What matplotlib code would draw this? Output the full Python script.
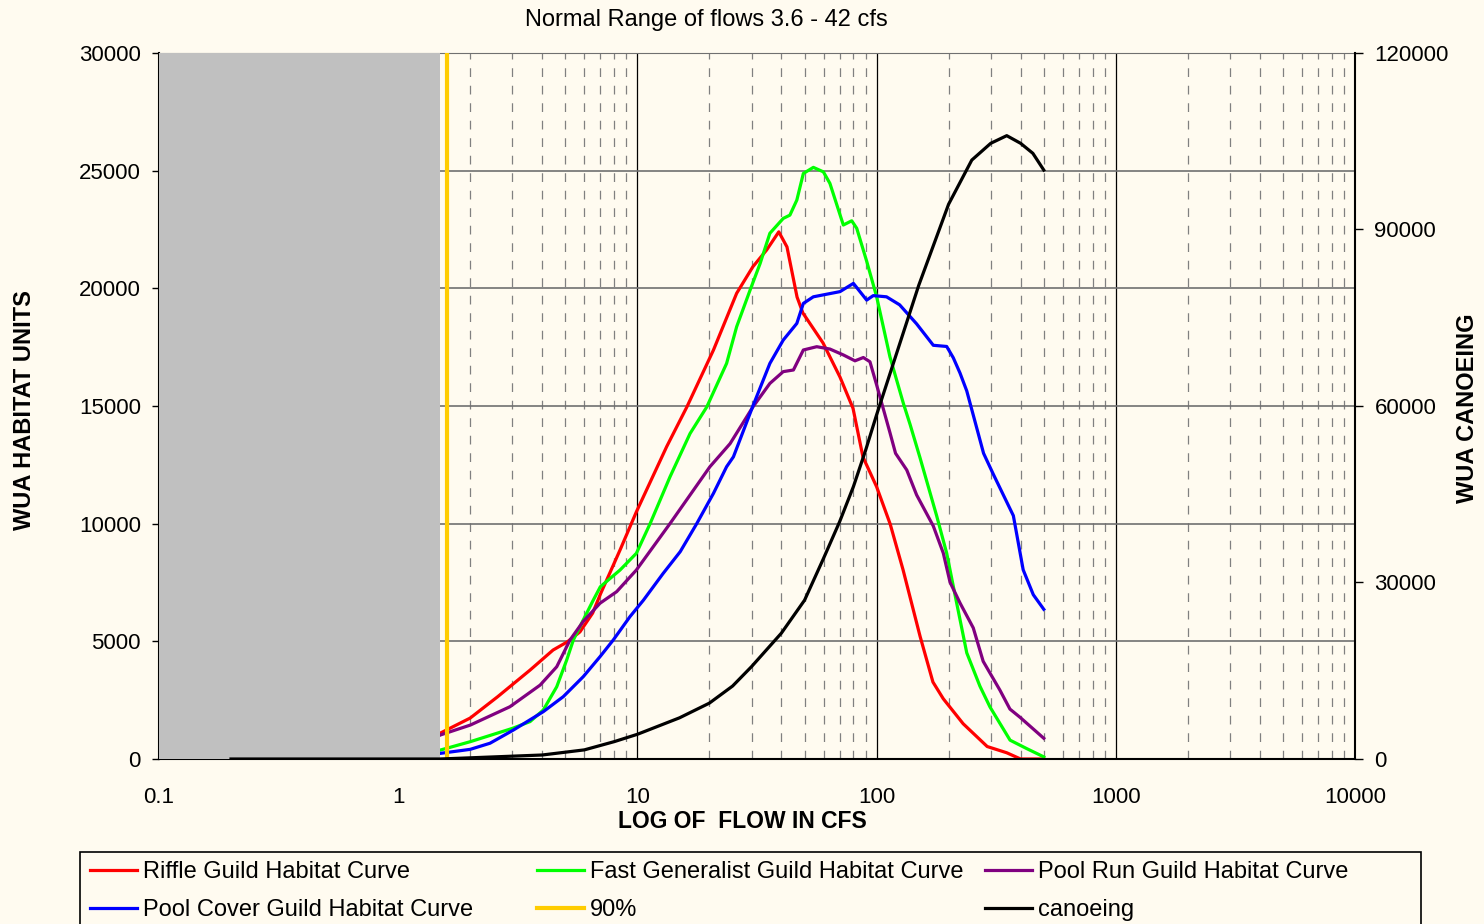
import matplotlib
matplotlib.use("Agg")
import matplotlib.pyplot as plt
from matplotlib.patches import Rectangle
from matplotlib.ticker import FixedLocator, NullFormatter

plt.rcParams['font.family'] = ['Liberation Sans', 'DejaVu Sans']

BG = '#FFFBF0'

# --- data ---
riffle_flow = [0.2, 0.5, 1.0, 1.5, 2.0, 2.6, 3.56, 4.44, 5.08, 5.75, 6.5, 7.0, 8.46, 9.9,
               13.25, 16.1, 20.8, 26.0, 30.4, 34.7, 39.0, 42.2, 46.5, 49.2, 59.7, 70.3,
               79.7, 87.7, 100, 114, 129, 152, 172, 190, 230, 290, 350, 400, 500]
riffle_wua = [0, 20, 60, 1100, 1740, 2640, 3780, 4630, 4970, 5400, 6200, 7000, 8880, 10500,
              13270, 14960, 17380, 19790, 20920, 21630, 22400, 21760, 19630, 18950, 17680, 16230,
              14900, 12830, 11570, 9980, 8040, 5210, 3270, 2560, 1500, 530, 265, 0, 0]

fast_flow = [0.2, 0.5, 1.0, 1.5, 2.0, 3.0, 3.56, 4.04, 4.6, 5.06, 5.4, 5.9, 6.5, 7.0, 8.46, 9.9,
             11.3, 13.7, 16.6, 19.5, 23.6, 26.0, 29.6, 32.6, 35.8, 40.7, 43.4, 46.4, 49.4, 54.4,
             59.9, 63.8, 72.6, 78.7, 82.6, 90.9, 100, 113.7, 129.4, 138, 151.8, 178.2, 196.3,
             216.1, 238.2, 270.5, 297.9, 361.4, 424.6, 500]
fast_wua = [0, 10, 30, 380, 735, 1300, 1590, 2080, 3070, 4200, 5060, 5850, 6700, 7320, 8030, 8740,
            10000, 12000, 13830, 14960, 16810, 18370, 19930, 21060, 22340, 22970, 23110, 23750, 24880, 25140,
            24950, 24460, 22690, 22870, 22550, 21150, 19650, 17090, 15110, 14220, 12810, 10340, 8750,
            6630, 4510, 3090, 2210, 800, 440, 90]

poolrun_flow = [0.2, 0.5, 1.0, 1.5, 2.0, 2.93, 3.92, 4.6, 5.23, 5.94, 6.98, 8.19, 9.9, 13.7,
                20.1, 24.4, 30.4, 35.8, 40.7, 44.9, 49.4, 56.2, 63.8, 72.6, 81.2, 88, 93.8,
                100, 113.7, 120, 133.7, 147, 172.6, 190, 202.8, 223.2, 253.6, 279, 328, 361, 398, 500]
poolrun_wua = [0, 10, 30, 1020, 1440, 2220, 3140, 3920, 5060, 5850, 6620, 7110, 8030, 10010,
               12420, 13400, 14960, 15960, 16460, 16530, 17380, 17520, 17420, 17170, 16920, 17060, 16880,
               15900, 13870, 12990, 12280, 11220, 9900, 8750, 7510, 6630, 5570, 4150, 2920, 2120, 1770, 880]

poolcover_flow = [0.2, 0.5, 1.0, 1.5, 2.0, 2.42, 3.03, 4.04, 4.9, 5.94, 6.98, 7.93, 9.31, 10.6,
                  12.8, 15.1, 17.7, 20.8, 23.6, 25.2, 30.4, 35.8, 40.7, 46.4, 49.4, 54.4, 70.3,
                  80, 90.9, 96.8, 110, 124.8, 147, 172.6, 196.3, 209.2, 223.2, 238.2, 280, 307.6,
                  373, 410, 452, 500]
poolcover_wua = [0, 5, 15, 240, 410, 670, 1230, 2010, 2650, 3500, 4350, 5060, 6050, 6750,
                 7880, 8810, 10000, 11290, 12420, 12840, 15000, 16810, 17800, 18510, 19360, 19640, 19860,
                 20210, 19500, 19690, 19640, 19300, 18490, 17580, 17530, 17050, 16400, 15640, 12990, 12100,
                 10340, 8040, 6980, 6360]

canoe_flow = [0.2, 1.0, 1.5, 2, 4, 6, 8, 10, 15, 20, 25, 30, 40, 50, 60, 70, 80, 90, 100,
              150, 200, 250, 300, 350, 400, 450, 500]
canoe_wua = [0, 0, 0, 200, 680, 1550, 2950, 4200, 7000, 9500, 12400, 15700, 21400, 27000, 34100,
             40300, 46300, 52500, 58500, 80500, 94300, 101800, 104650, 105950, 104650, 102950, 100100]

flow_90 = 1.6
shaded_flows = (0.1, 1.5)

x_ticks = [0.1, 1, 10, 100, 1000, 10000]
x_tick_labels = ['0.1', '1', '10', '100', '1000', '10000']
left_ticks = [0, 5000, 10000, 15000, 20000, 25000, 30000]
right_ticks = [0, 30000, 60000, 90000, 120000]

# --- figure ---
fig = plt.figure(figsize=(14.84, 9.24), dpi=100, facecolor=BG)
ax = fig.add_axes([159 / 1484, 1 - 759 / 924, 1196 / 1484, 706 / 924])
ax.set_facecolor(BG)

ax.set_xscale('log')
ax.set_xlim(0.1, 10000)
ax.set_ylim(0, 30000)

minor = [m * 10.0 ** e for e in range(-1, 4) for m in range(2, 10)]
ax.xaxis.set_minor_locator(FixedLocator(minor))
ax.xaxis.set_minor_formatter(NullFormatter())
ax.set_xticks(x_ticks)
ax.set_xticklabels(x_tick_labels)
ax.set_yticks(left_ticks)
ax.set_yticklabels([str(v) for v in left_ticks])

ax.grid(which='major', axis='y', color='#707070', lw=1.2, ls='-', zorder=1)
ax.grid(which='major', axis='x', color='black', lw=0.9, ls='-', zorder=1)
ax.grid(which='minor', axis='x', color='#808080', lw=0.9, ls=(0, (7, 7)), zorder=1)
ax.set_axisbelow(True)

ax.tick_params(axis='x', which='major', length=0, pad=20, labelsize=16)
ax.tick_params(axis='x', which='minor', length=0)
ax.tick_params(axis='y', which='major', length=5, width=1, pad=8, labelsize=16)
for s in ['left', 'bottom']:
    ax.spines[s].set_color('black')
    ax.spines[s].set_linewidth(1.5)
ax.spines['top'].set_color('#707070')
ax.spines['right'].set_visible(False)

lw = 2.3
l_riffle, = ax.plot(riffle_flow, riffle_wua, color='#FF0000', lw=lw, zorder=2,
                    label='Riffle Guild Habitat Curve')
l_fast, = ax.plot(fast_flow, fast_wua, color='#00FF00', lw=lw, zorder=2,
                  label='Fast Generalist Guild Habitat Curve')
l_run, = ax.plot(poolrun_flow, poolrun_wua, color='#800080', lw=lw, zorder=2,
                 label='Pool Run Guild Habitat Curve')
l_cover, = ax.plot(poolcover_flow, poolcover_wua, color='#0000FF', lw=lw, zorder=2,
                   label='Pool Cover Guild Habitat Curve')

ax.axvspan(shaded_flows[0], shaded_flows[1], color='#C0C0C0', lw=0, zorder=3)
l_90 = ax.axvline(flow_90, color='#FFCC00', lw=3, zorder=4, label='90%')

ax2 = ax.twinx()
ax2.set_ylim(0, 120000)
ax2.set_yticks(right_ticks)
ax2.set_yticklabels([str(v) for v in right_ticks])
ax2.tick_params(axis='y', length=6, width=1, pad=8, labelsize=16)
ax2.spines['right'].set_color('black')
ax2.spines['right'].set_linewidth(1.5)
for s in ['left', 'top', 'bottom']:
    ax2.spines[s].set_visible(False)
l_canoe, = ax2.plot(canoe_flow, canoe_wua, color='black', lw=lw, zorder=5, label='canoeing')

# --- texts ---
fig.text(706 / 1484, 1 - 20 / 924, 'Normal Range of flows 3.6 - 42 cfs', fontsize=17,
         ha='center', va='center')
fig.text(742 / 1484, 1 - 822 / 924, 'LOG OF  FLOW IN CFS', fontsize=16.5, fontweight='bold',
         ha='center', va='center')
fig.text(25 / 1484, 1 - 410 / 924, 'WUA HABITAT UNITS', fontsize=17, fontweight='bold',
         rotation=90, ha='center', va='center')
fig.text(1467 / 1484, 1 - 408 / 924, 'WUA CANOEING', fontsize=17, fontweight='bold',
         rotation=90, ha='center', va='center')

# --- legend: boxed, three fixed-width columns ---
frame = Rectangle((80 / 1484, -0.05), 1341 / 1484, (924 - 852) / 924 + 0.05,
                  transform=fig.transFigure, facecolor=BG, edgecolor='black', lw=1.2)
fig.add_artist(frame)
columns = [([l_riffle, l_cover], 90), ([l_fast, l_90], 537), ([l_run, l_canoe], 985)]
for handles, xpx in columns:
    fig.legend(handles=handles, loc='upper left', bbox_to_anchor=(xpx / 1484, 1 - 861 / 924),
               frameon=False, fontsize=17, handlelength=2.0, handletextpad=0.25,
               borderpad=0, borderaxespad=0, labelspacing=0.67)

fig.savefig('out.png', dpi=100, facecolor=BG)
